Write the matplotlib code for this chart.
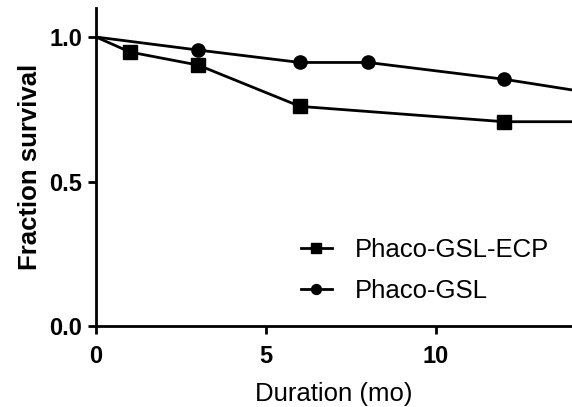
import matplotlib.pyplot as plt

plt.rcParams['font.family'] = ['Liberation Sans', 'DejaVu Sans']

# survival data (last point at x=14 is where the line leaves the plot)
ecp_months = [0, 1, 3, 6, 12, 14]
ecp_surv = [1.0, 0.948, 0.903, 0.760, 0.707, 0.707]
gsl_months = [0, 3, 6, 8, 12, 14]
gsl_surv = [1.0, 0.955, 0.912, 0.912, 0.854, 0.817]

fig = plt.figure(figsize=(5.72, 4.07), dpi=100)
ax = fig.add_axes([0.168, 0.199, 0.832, 0.781])

ax.plot(ecp_months, ecp_surv, color='black', lw=2, marker='s', ms=9.5,
        markevery=[1, 2, 3, 4], label='Phaco-GSL-ECP')
ax.plot(gsl_months, gsl_surv, color='black', lw=2, marker='o', ms=9.5,
        markevery=[1, 2, 3, 4], label='Phaco-GSL')

ax.set_xlim(0, 14)
ax.set_ylim(0, 1.1)
ax.set_xticks([0, 5, 10])
ax.set_yticks([0.0, 0.5, 1.0])
ax.set_yticklabels(['0.0', '0.5', '1.0'])

for s in ['top', 'right']:
    ax.spines[s].set_visible(False)
for s in ['left', 'bottom']:
    ax.spines[s].set_linewidth(2)
ax.tick_params(width=2, length=6, labelsize=17)
ax.tick_params(axis='x', pad=8)
ax.tick_params(axis='y', pad=4)
for lab in ax.get_xticklabels() + ax.get_yticklabels():
    lab.set_fontweight('bold')

ax.set_xlabel('Duration (mo)', fontsize=18.5, labelpad=10)
ax.set_ylabel('Fraction survival', fontsize=18.5, fontweight='bold', labelpad=5)

ax.legend(loc='lower right', bbox_to_anchor=(1.0, 0.0), frameon=False,
          fontsize=18.5, handlelength=1.2, handletextpad=0.9,
          labelspacing=0.65, markerscale=0.75)

fig.savefig('out.png', dpi=100)
